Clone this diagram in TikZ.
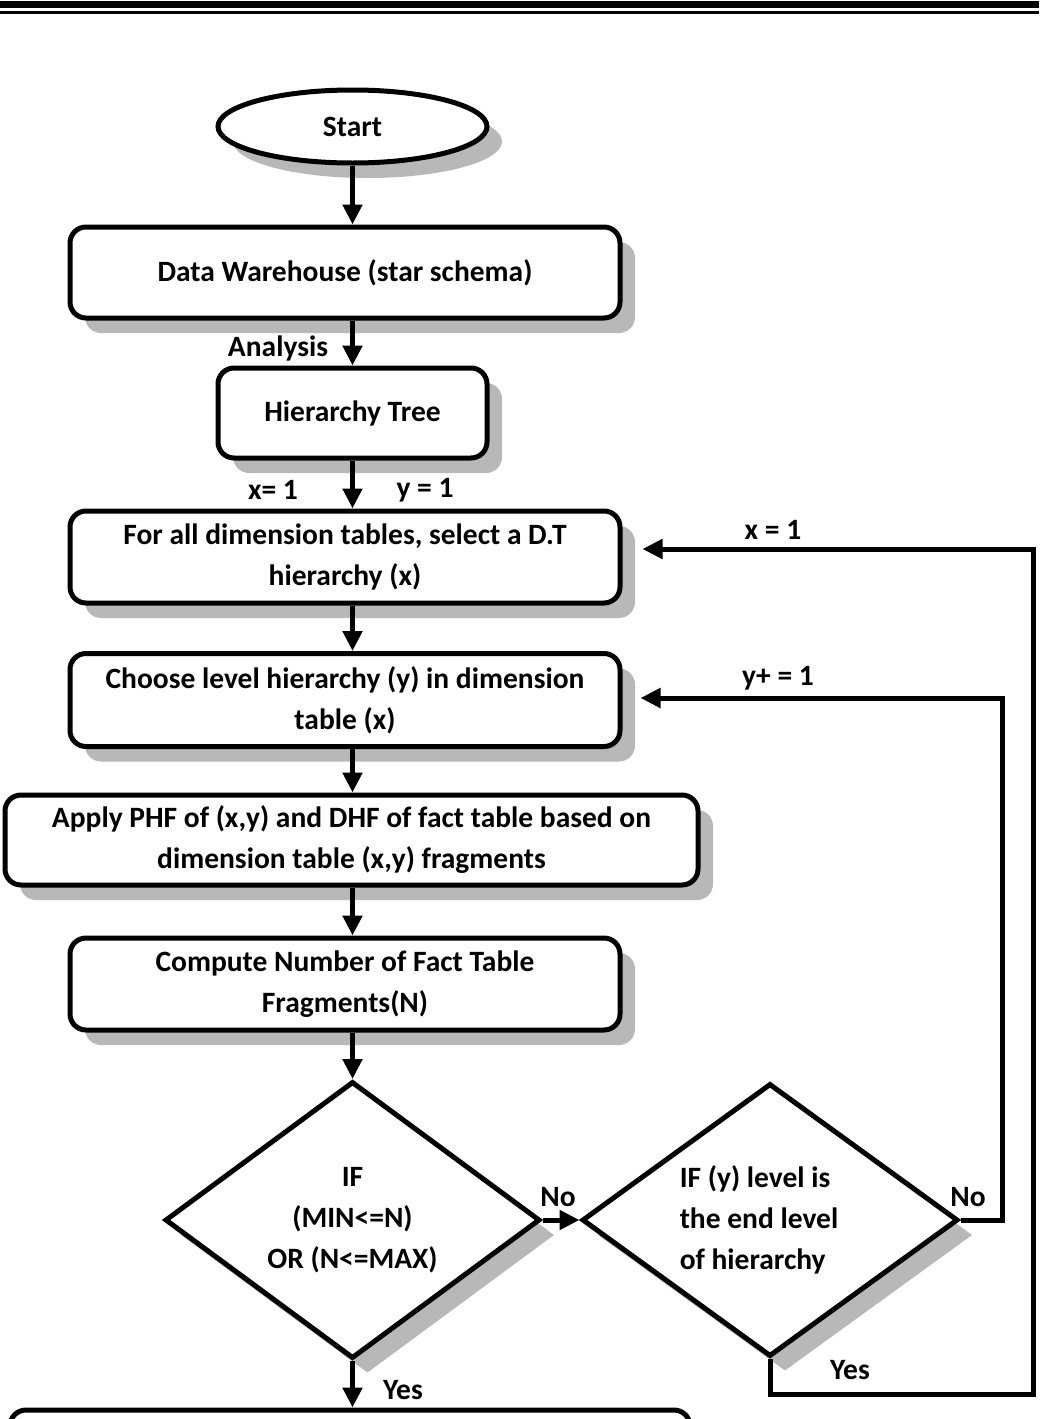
\documentclass[tikz,border=0pt]{standalone}
\usepackage{fontspec}
\setmainfont{Carlito}
\usetikzlibrary{shapes.geometric,shadows,patterns,arrows.meta}
\begin{document}
\begin{tikzpicture}[x=1pt,y=-1pt,
  font=\fontsize{29.5}{41}\selectfont\bfseries,
  shad/.style={drop shadow={shadow xshift=15pt,shadow yshift=-15pt,opacity=1,fill=black!28}},
  box/.style={draw,line width=5pt,rounded corners=16pt,fill=white,align=center,inner sep=0pt,shad},
  dia/.style={diamond,draw,line width=5pt,fill=white,inner sep=0pt,aspect=1.35,shad},
  arr/.style={line width=5pt,-{Triangle[length=20pt,width=19pt]}},
  lbl/.style={inner sep=0pt}]
\useasboundingbox (0,0) rectangle (1039,1419);
\clip (0,0) rectangle (1039,1419);
\fill (0,1) rectangle (1039,8);
\fill (0,10.5) rectangle (1039,13.5);
% nodes
\node[box,ellipse,sharp corners,minimum width=269pt,minimum height=73pt] (start) at (352.5,126.5) {Start};
\node[box,minimum width=550pt,minimum height=91pt] (b1) at (345,272.5) {Data Warehouse (star schema)};
\node[box,minimum width=269pt,minimum height=90pt] (b2) at (352.5,413) {Hierarchy Tree};
\node[box,minimum width=550pt,minimum height=92pt] (b3) at (345,557) {For all dimension tables, select a D.T\\hierarchy (x)};
\node[box,minimum width=550pt,minimum height=93pt] (b4) at (345,700) {Choose level hierarchy (y) in dimension\\table (x)};
\node[box,minimum width=693pt,minimum height=90pt] (b5) at (351.5,840) {Apply PHF of (x,y) and DHF of fact table based on\\dimension table (x,y) fragments};
\node[box,minimum width=550pt,minimum height=92pt] (b6) at (345,984) {Compute Number of Fact Table\\Fragments(N)};
\node[dia,minimum width=375pt,minimum height=277pt,align=center] (d1) at (352.5,1220) {IF\\(MIN<=N)\\OR (N<=MAX)};
\node[dia,minimum width=376pt,minimum height=273pt,align=left] (d2) at (770,1220) {IF (y) level is\\the end level\rule{22pt}{0pt}\\of hierarchy};
\node[box,minimum width=680pt,minimum height=100pt] (b7) at (350,1460) {};
% connectors
\draw[arr] (start.south) -- (start.south |- b1.north);
\draw[arr] (b1.south -| start) -- (b2.north);
\draw[arr] (b2.south) -- (b2.south |- b3.north);
\draw[arr] (b3.south -| start) -- (b4.north -| start);
\draw[arr] (b4.south -| start) -- (b5.north -| start);
\draw[arr] (b5.south -| start) -- (b6.north -| start);
\draw[arr] (b6.south -| start) -- (d1.north);
\draw[arr] (d1.south) -- (d1.south |- b7.north);
\draw[arr] (d1.east) -- (d2.west);
\draw[arr] (d2.east) -- ++(42,0) |- ([xshift=18pt,yshift=2pt]b4.east);
\draw[arr] (d2.south) -- ++(0,35) -| ++(263,-200) |- ([xshift=20pt,yshift=8pt]b3.east);
% labels
\node[lbl] (lan) at (278,348) {Analysis};
\node[lbl] (lx1) at (273,490) {x= 1};
\node[lbl] (ly1) at (425,490) {y = 1};
\node[lbl] (lx2) at (773,530) {x = 1};
\node[lbl] (ly2) at (778,678) {y+ = 1};
\node[lbl] (lno1) at (558,1197) {No};
\node[lbl] (lno2) at (968,1197) {No};
\node[lbl] (lyes1) at (850,1370) {Yes};
\node[lbl] (lyes2) at (403,1390) {Yes};
\end{tikzpicture}
\end{document}
